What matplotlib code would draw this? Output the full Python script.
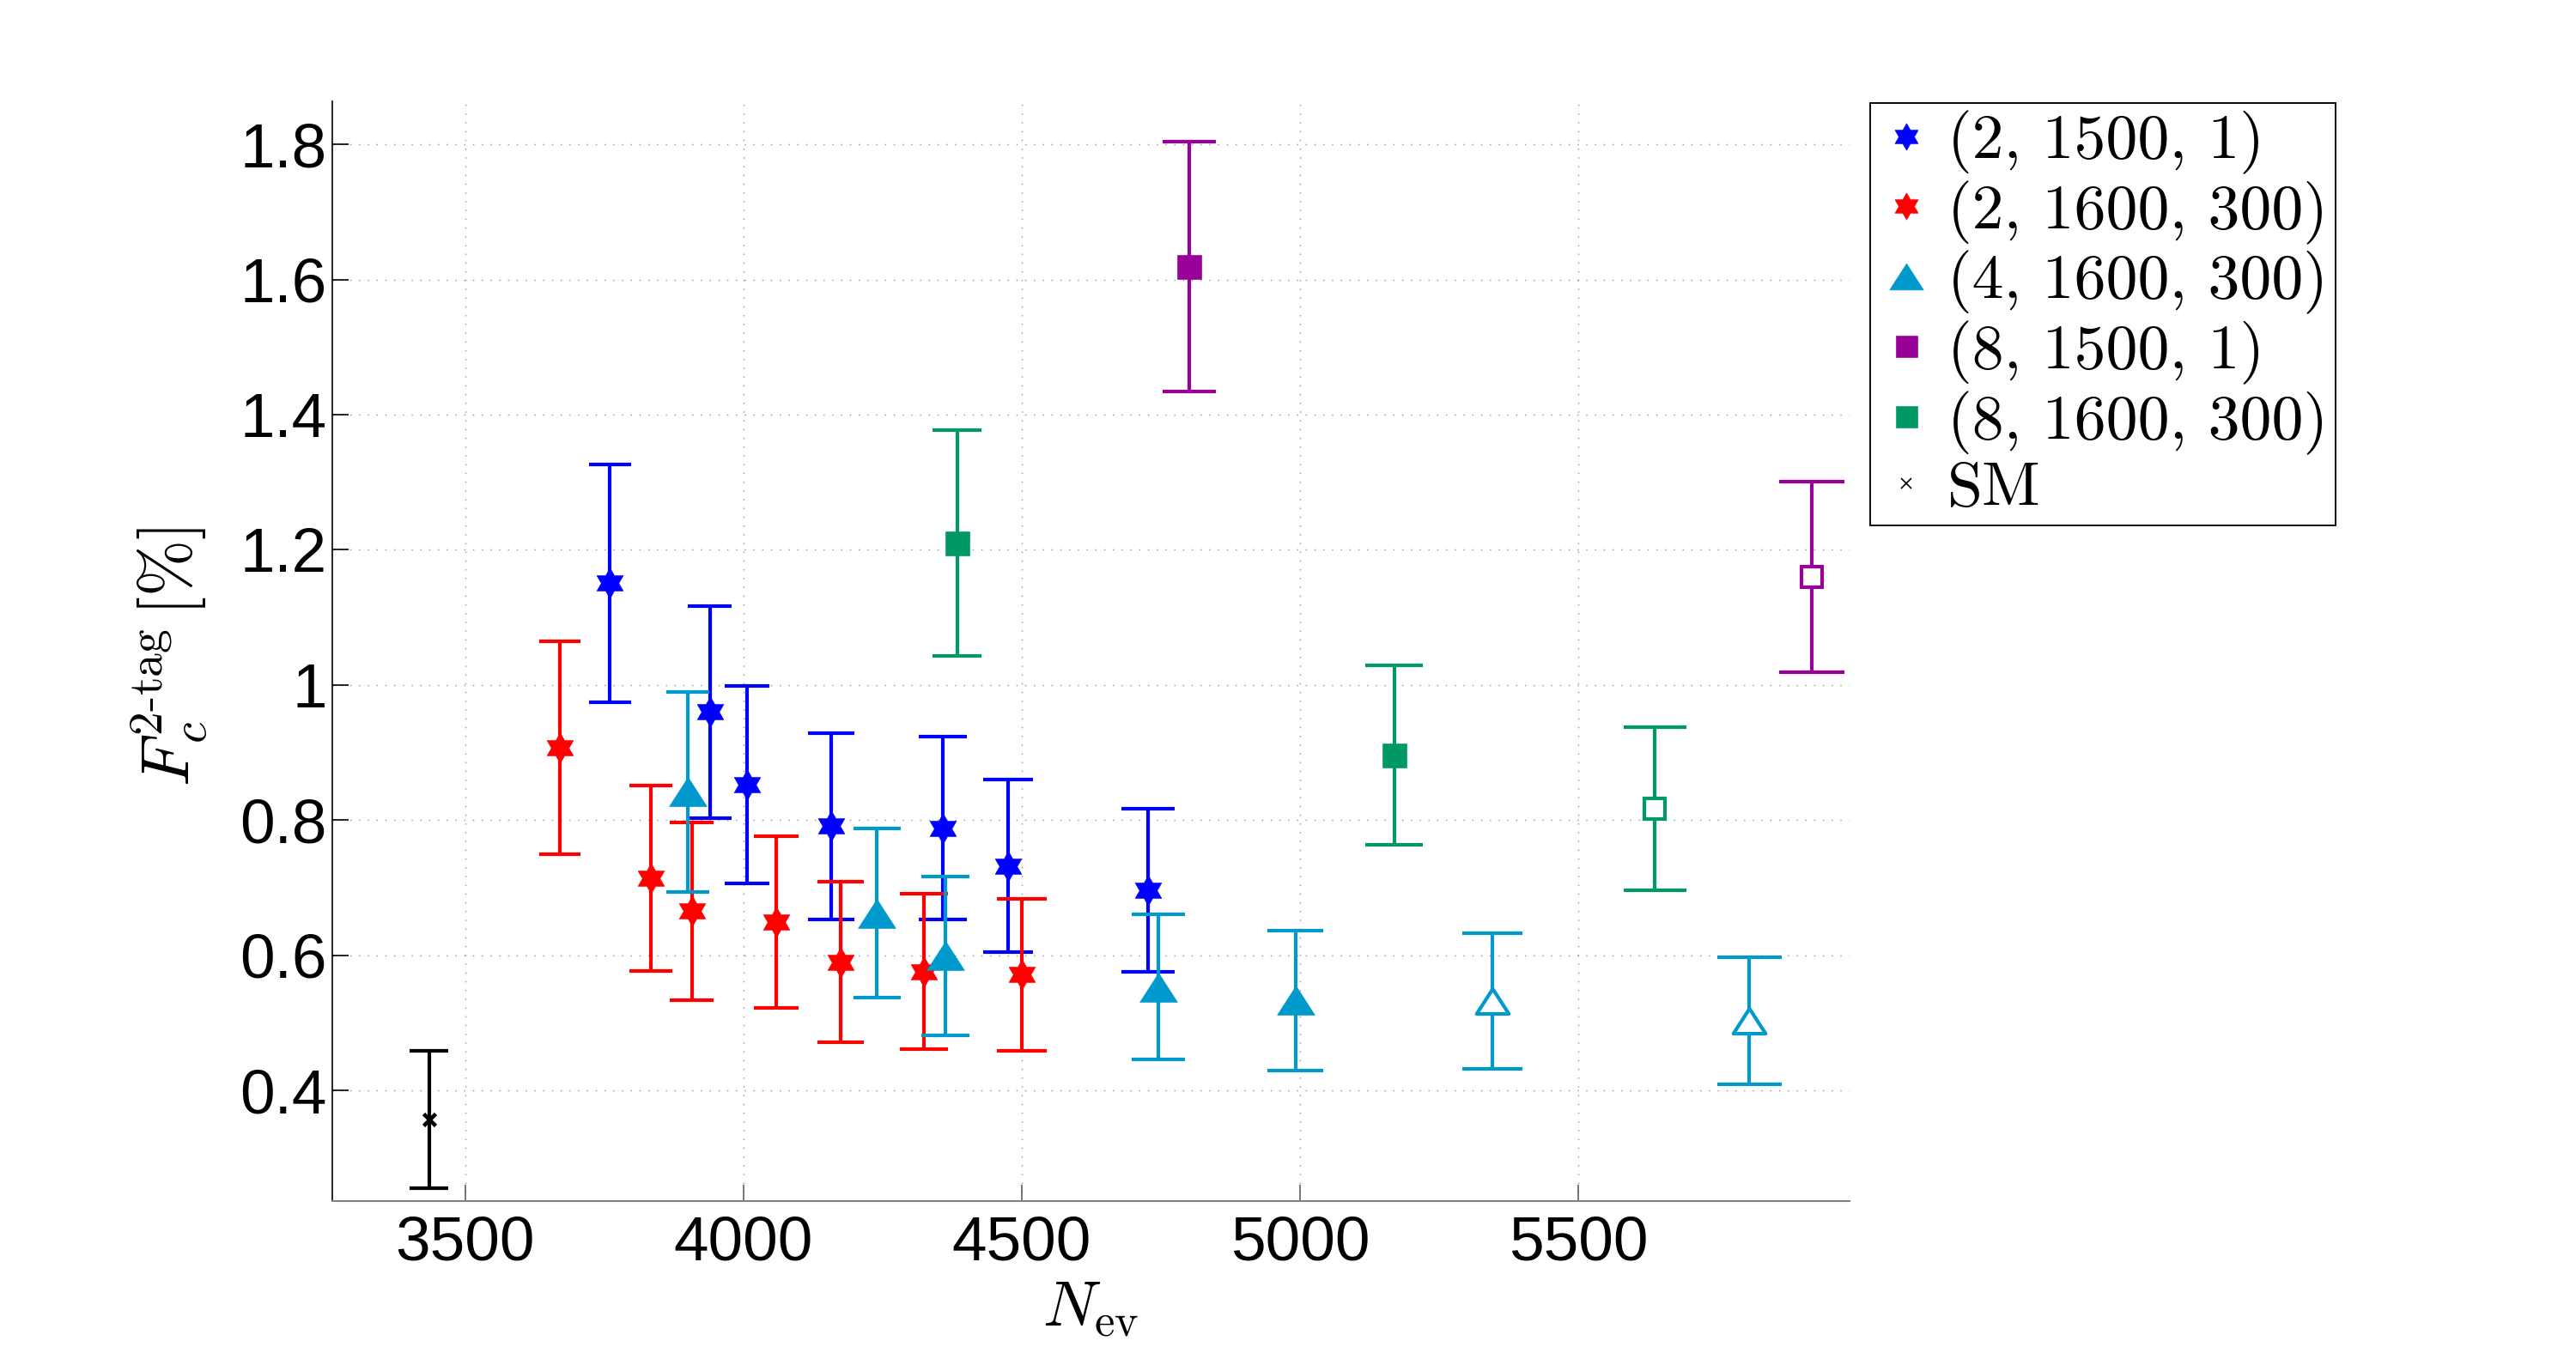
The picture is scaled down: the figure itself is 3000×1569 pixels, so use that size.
import matplotlib
matplotlib.use("Agg")
import matplotlib.pyplot as plt
from matplotlib.lines import Line2D
from matplotlib.ticker import MultipleLocator
import numpy as np

plt.rcParams['mathtext.fontset'] = 'cm'
plt.rcParams['font.family'] = ['Liberation Sans', 'DejaVu Sans']

# (2, 1500, 1)
blue_x = [3760, 3940, 4007, 4158, 4358, 4476, 4727]
blue_y = [1.151, 0.960, 0.852, 0.791, 0.788, 0.732, 0.696]
blue_err = [0.176, 0.157, 0.146, 0.138, 0.135, 0.128, 0.121]

# (2, 1600, 300)
red_x = [3670, 3834, 3907, 4059, 4175, 4324, 4500]
red_y = [0.907, 0.714, 0.665, 0.649, 0.590, 0.576, 0.571]
red_err = [0.158, 0.137, 0.131, 0.127, 0.119, 0.115, 0.112]

# (4, 1600, 300) filled / open
cyan_x = [3900, 4240, 4363, 4746, 4992]
cyan_y = [0.842, 0.662, 0.599, 0.553, 0.533]
cyan_err = [0.148, 0.125, 0.118, 0.107, 0.104]
cyan_open_x = [5346, 5808]
cyan_open_y = [0.532, 0.503]
cyan_open_err = [0.100, 0.094]

# (8, 1500, 1)
purple_x = [4801]
purple_y = [1.619]
purple_err = [0.185]
purple_open_x = [5920]
purple_open_y = [1.160]
purple_open_err = [0.141]

# (8, 1600, 300)
green_x = [4384, 5170]
green_y = [1.210, 0.896]
green_err = [0.167, 0.133]
green_open_x = [5638]
green_open_y = [0.817]
green_open_err = [0.121]

# SM
sm_x = [3435]
sm_y = [0.357]
sm_err = [0.102]

labels = ['(2, 1500, 1)', '(2, 1600, 300)', '(4, 1600, 300)',
          '(8, 1500, 1)', '(8, 1600, 300)', 'SM']

BLUE = '#0000FF'
RED = '#FF0000'
CYAN = '#0099CC'
PURPLE = '#990099'
GREEN = '#009966'

# marker shapes
ang = np.deg2rad(np.arange(6) * 60 + 90)
r_in = 1 / np.sqrt(3)
hexa = []
for a in ang:
    hexa.append((np.cos(a), np.sin(a)))
    hexa.append((r_in * np.cos(a + np.pi / 6), r_in * np.sin(a + np.pi / 6)))
hexa.append(hexa[0])
tri = [(0, 0.776), (-1, -0.776), (1, -0.776), (0, 0.776)]

fig = plt.figure(figsize=(20, 10.46), dpi=150)
ax = fig.add_axes([0.129, 0.1083, 0.589, 0.8165])

ax.set_xlim(3261, 5988)
ax.set_ylim(0.236, 1.864)
ax.xaxis.set_major_locator(MultipleLocator(500))
ax.set_yticks([0.4, 0.6, 0.8, 1.0, 1.2, 1.4, 1.6, 1.8])
ax.set_yticklabels(['0.4', '0.6', '0.8', '1', '1.2', '1.4', '1.6', '1.8'])

ax.grid(True, color='#9a9a9a', linestyle=(0, (1, 6)), linewidth=0.7)
ax.set_axisbelow(True)

for s in ['top', 'right']:
    ax.spines[s].set_visible(False)
ax.spines['left'].set_color('black')
ax.spines['left'].set_linewidth(0.8)
ax.spines['bottom'].set_color('#808080')
ax.spines['bottom'].set_linewidth(1.0)

ax.tick_params(axis='both', direction='in', length=9, width=0.8,
               labelsize=35)
ax.tick_params(axis='y', pad=3, colors='black')
ax.tick_params(axis='x', pad=8, color='#606060', labelcolor='black')


def bars(x, y, err, color, lw=2.0):
    x = np.array(x, dtype=float)
    y = np.array(y)
    err = np.array(err)
    ax.errorbar(x, y, yerr=err, fmt='none', ecolor=color, elinewidth=lw,
                capsize=0, zorder=2)
    ax.hlines(np.concatenate([y - err, y + err]),
              np.concatenate([x * 0.99, x * 0.99]),
              np.concatenate([x * 1.01, x * 1.01]),
              colors=color, linewidth=lw, zorder=2)


bars(blue_x, blue_y, blue_err, BLUE)
ax.plot(blue_x, blue_y, ls='none', marker=hexa, ms=17, color=BLUE, mew=0.3, zorder=3)

bars(red_x, red_y, red_err, RED)
ax.plot(red_x, red_y, ls='none', marker=hexa, ms=17, color=RED, mew=0.3, zorder=3)

bars(cyan_x, cyan_y, cyan_err, CYAN)
bars(cyan_open_x, cyan_open_y, cyan_open_err, CYAN)
ax.plot(cyan_x, cyan_y, ls='none', marker=tri, ms=21, color=CYAN, mew=0.3, zorder=3)
ax.plot(cyan_open_x, cyan_open_y, ls='none', marker=tri, ms=18, color=CYAN,
        mfc='white', mew=2, zorder=3)

bars(purple_x, purple_y, purple_err, PURPLE)
bars(purple_open_x, purple_open_y, purple_open_err, PURPLE)
ax.plot(purple_x, purple_y, ls='none', marker='s', ms=13.5, color=PURPLE, mew=0.3, zorder=3)
ax.plot(purple_open_x, purple_open_y, ls='none', marker='s', ms=11.5, color=PURPLE,
        mfc='white', mew=2, zorder=3)

bars(green_x, green_y, green_err, GREEN)
bars(green_open_x, green_open_y, green_open_err, GREEN)
ax.plot(green_x, green_y, ls='none', marker='s', ms=13.5, color=GREEN, mew=0.3, zorder=3)
ax.plot(green_open_x, green_open_y, ls='none', marker='s', ms=11.5, color=GREEN,
        mfc='white', mew=2, zorder=3)

bars(sm_x, sm_y, sm_err, 'black')
ax.plot(sm_x, sm_y, ls='none', marker='x', ms=7, color='black', mew=2.2, zorder=3)

ax.set_xlabel(r'$N_{\mathrm{ev}}$', fontsize=36)
ax.xaxis.set_label_coords(0.5, -0.072)
ax.set_ylabel(r'$F_c^{\text{2-tag}}\,[\%]$', fontsize=38)
ax.yaxis.set_label_coords(-0.081, 0.495)

handles = [
    Line2D([], [], ls='none', marker=hexa, ms=15, color=BLUE, mew=0.3),
    Line2D([], [], ls='none', marker=hexa, ms=15, color=RED, mew=0.3),
    Line2D([], [], ls='none', marker=tri, ms=19, color=CYAN, mew=0.3),
    Line2D([], [], ls='none', marker='s', ms=12, color=PURPLE, mew=0.3),
    Line2D([], [], ls='none', marker='s', ms=12, color=GREEN, mew=0.3),
    Line2D([], [], ls='none', marker='x', ms=6, color='black', mew=0.8),
]
leg = fig.legend(handles, labels, loc='upper left', bbox_to_anchor=(0.726, 0.9235),
                 prop={'family': 'cmr10', 'size': 35.5}, frameon=True,
                 fancybox=False, framealpha=1, edgecolor='black',
                 borderpad=0.12, handlelength=0.9, handletextpad=0.2,
                 labelspacing=0.1, borderaxespad=0)
leg.get_frame().set_linewidth(0.9)

fig.savefig('out.png', dpi=150)
